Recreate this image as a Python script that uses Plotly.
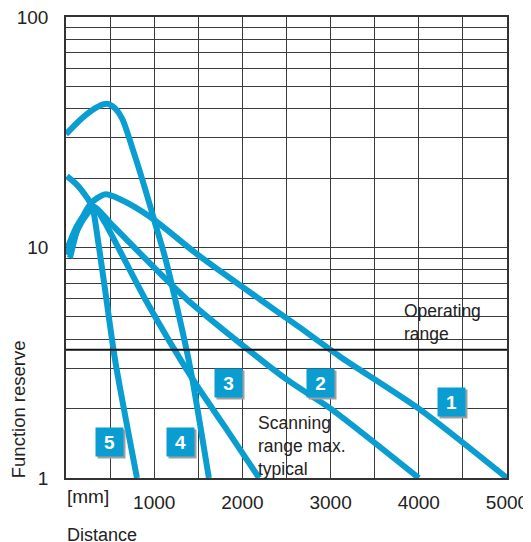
import numpy as np
import plotly.graph_objects as go

# curve data: distance in mm, function reserve (log scale)
curve_names = ["1", "2", "3", "4", "5"]

c1_dist = [45, 130, 220, 300, 442, 612, 952, 1519, 2200, 2653, 3107, 4000, 5000]
c1_res = [9.0, 12.0, 14.3, 15.8, 17.0, 16.2, 13.6, 9.15, 5.95, 4.49, 3.36, 2.0, 1.0]

c2_dist = [20, 120, 220, 320, 500, 1372, 2506, 3000, 4000]
c2_res = [10.0, 12.3, 14.0, 15.0, 12.8, 5.95, 2.67, 2.0, 1.0]

c3_dist = [10, 110, 210, 320, 442, 900, 1440, 1800, 2190]
c3_res = [9.3, 11.5, 13.5, 15.0, 12.8, 5.95, 2.67, 1.67, 1.0]

c4_dist = [0, 150, 300, 420, 476, 560, 640, 782, 896, 1009, 1122, 1213, 1406, 1620]
c4_res = [31, 35.5, 39.5, 41.8, 42, 40, 36, 24.9, 18.0, 12.8, 9.1, 6.56, 3.04, 1.0]

c5_dist = [10, 130, 250, 300, 340, 442, 556, 805]
c5_res = [20.4, 18.6, 16.2, 15.0, 12.3, 6.6, 3.26, 1.0]

operating_limit = 3.6

x_ticks = [1000, 2000, 3000, 4000, 5000]
x_minor = [500, 1500, 2500, 3500, 4500]
y_ticks = [1, 10, 100]
y_minor = [2, 3, 4, 5, 6, 7, 8, 9, 20, 30, 40, 50, 60, 70, 80, 90]

BLUE = "#0a9dd2"
GRID = "#3c3c3c"
TEXT = "#222"
FONT = "Liberation Sans, Arial, sans-serif"

curves = [
    (c1_dist, c1_res),
    (c2_dist, c2_res),
    (c3_dist, c3_res),
    (c4_dist, c4_res),
    (c5_dist, c5_res),
]

fig = go.Figure()
for name, (xs, ys) in zip(curve_names, curves):
    fig.add_trace(
        go.Scatter(
            x=xs,
            y=ys,
            name=name,
            mode="lines",
            line=dict(color=BLUE, width=6, shape="spline", smoothing=0.7),
            hoverinfo="skip",
        )
    )

fig.add_hline(y=operating_limit, line_color="#111", line_width=2)

# white patches behind the text blocks (hide grid, stay under curves)
for x0, x1, y0, y1 in [(0.741, 0.957, 0.284, 0.375), (0.424, 0.639, 0.01, 0.141)]:
    fig.add_shape(
        type="rect", xref="paper", yref="paper", x0=x0, x1=x1, y0=y0, y1=y1,
        fillcolor="white", line_width=0, layer="between",
    )

fig.add_annotation(
    xref="paper", yref="paper", x=0.762, y=0.337, xanchor="left", yanchor="middle",
    text="Operating<br>range", align="left", showarrow=False,
    font=dict(family=FONT, size=17.5, color=TEXT),
)
fig.add_annotation(
    xref="paper", yref="paper", x=0.431, y=0.145, xanchor="left", yanchor="top",
    text="Scanning<br>range max.<br>typical", align="left", showarrow=False,
    font=dict(family=FONT, size=17.5, color=TEXT),
)

# numbered boxes
label_pos = [(4376, 2.14), (2891, 2.59), (1848, 2.59), (1293, 1.43), (488, 1.43)]
for name, (lx, ly) in zip(curve_names, label_pos):
    common = dict(x=lx, y=np.log10(ly), showarrow=False, width=25, height=26, borderpad=1)
    fig.add_annotation(text=" ", bgcolor="#a0a0a0", xshift=2, yshift=-2, **common)
    fig.add_annotation(
        text=f"<b>{name}</b>", bgcolor=BLUE,
        font=dict(family=FONT, size=19, color="white"), **common,
    )

fig.add_annotation(
    xref="paper", yref="paper", x=-0.003, y=-0.04, xanchor="left", yanchor="middle",
    text="[mm]", showarrow=False, font=dict(family=FONT, size=19, color=TEXT),
)
fig.add_annotation(
    xref="paper", yref="paper", x=-0.002, y=-0.097, xanchor="left", yanchor="top",
    text="Distance", showarrow=False, font=dict(family=FONT, size=18, color=TEXT),
)
fig.add_annotation(
    xref="paper", yref="paper", x=-0.109, y=-0.005, xanchor="center", yanchor="bottom",
    text="Function reserve", textangle=-90, showarrow=False,
    font=dict(family=FONT, size=18.5, color=TEXT),
)

fig.update_xaxes(
    range=[0, 5000], tickvals=x_ticks, ticks="", showgrid=True, gridcolor=GRID, gridwidth=1.2,
    minor=dict(tickvals=x_minor, showgrid=True, gridcolor=GRID, gridwidth=1.2, ticks=""),
    showline=True, linecolor="#333", linewidth=1.5, mirror=True, zeroline=False,
    tickfont=dict(family=FONT, size=19, color=TEXT), ticklabelstandoff=6, automargin=False,
    ticklabeloverflow="allow",
)
fig.update_yaxes(
    type="log", range=[0, 2], tickvals=y_ticks, ticks="", showgrid=True, gridcolor=GRID, gridwidth=1.2,
    minor=dict(tickvals=y_minor, showgrid=True, gridcolor=GRID, gridwidth=1.2, ticks=""),
    showline=True, linecolor="#333", linewidth=1.5, mirror=True,
    tickfont=dict(family=FONT, size=19, color=TEXT), ticklabelstandoff=12, automargin=False,
    ticklabeloverflow="allow",
)
# the page body adds an 8px offset, so the figure is 8px smaller and margins shifted
fig.update_layout(
    width=523, height=534,
    margin=dict(l=58, r=24, t=9, b=64),
    plot_bgcolor="white", paper_bgcolor="white",
    showlegend=False,
)

fig.write_html("out.html")
